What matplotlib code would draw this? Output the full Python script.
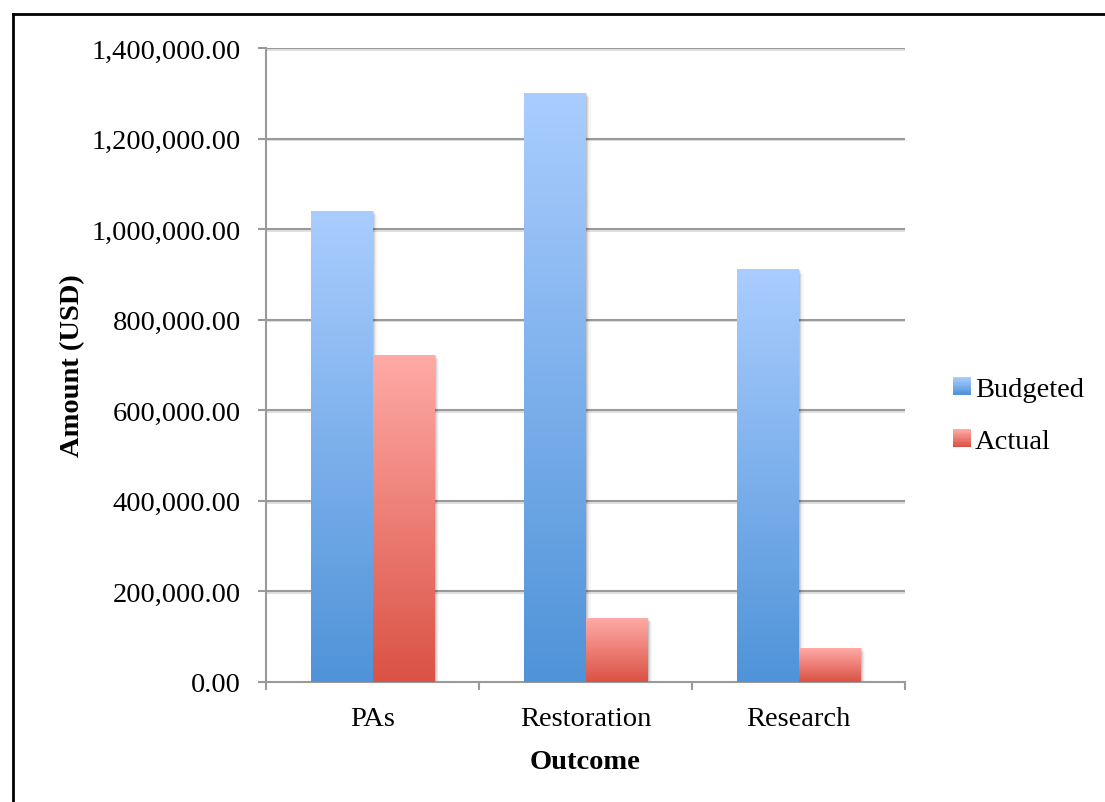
import numpy as np
import matplotlib
matplotlib.use("Agg")
import matplotlib.pyplot as plt
from matplotlib.colors import LinearSegmentedColormap, to_rgb
from matplotlib.patches import Rectangle
from matplotlib.lines import Line2D
from matplotlib.legend_handler import HandlerBase
import matplotlib.patheffects as pe

categories = ["PAs", "Restoration", "Research"]
budgeted = [1040000, 1300000, 910000]
actual = [722000, 141000, 75000]
series_names = ["Budgeted", "Actual"]
y_ticks = [0, 200000, 400000, 600000, 800000, 1000000, 1200000, 1400000]

blue_top, blue_bottom = "#aacdff", "#4f93d8"
red_top, red_bottom = "#ffaaa6", "#da5245"

FS = 20.5
plt.rcParams["font.family"] = ["Liberation Serif", "DejaVu Serif"]

fig = plt.figure(figsize=(11.05, 8.03), dpi=100)
ax = fig.add_axes([266 / 1105, 1 - 683 / 803, (905 - 266) / 1105, (683 - 49) / 803])

x = np.arange(len(categories))
width = 0.29

b1 = ax.bar(x - width / 2, budgeted, width, color="none", edgecolor="none", zorder=3)
b2 = ax.bar(x + width / 2, actual, width, color="none", edgecolor="none", zorder=3)


def fill_gradient(rects, top, bottom):
    cmap = LinearSegmentedColormap.from_list("g", [bottom, top])
    grad = np.linspace(0, 1, 256).reshape(-1, 1)
    for r in rects:
        x0, w, h = r.get_x(), r.get_width(), r.get_height()
        # soft drop shadow to the right
        for k, a in enumerate([0.10, 0.07, 0.05, 0.03]):
            dx = 0.006 + 0.006 * k
            ax.add_patch(Rectangle((x0 + dx, 0), w, h - 3000 * k, facecolor="black",
                                   alpha=a, edgecolor="none", zorder=2))
        ax.imshow(grad, extent=(x0, x0 + w, 0, h), origin="lower", cmap=cmap,
                  aspect="auto", zorder=3, interpolation="bilinear")


fill_gradient(b1, blue_top, blue_bottom)
fill_gradient(b2, red_top, red_bottom)

ax.set_xlim(-0.5, 2.5)
ax.set_ylim(0, 1400000)

ax.set_yticks(y_ticks)
ax.set_yticklabels([f"{v:,.2f}" for v in y_ticks])
ax.set_xticks(x)
ax.set_xticklabels(categories)
ax.set_xticks([-0.5, 0.5, 1.5, 2.5], minor=True)

grid_color = "#9a9a9a"
for v in y_ticks[1:]:
    ax.axhline(v, color=grid_color, lw=1.5, zorder=1,
               path_effects=[pe.SimpleLineShadow(offset=(0, -1.2), shadow_color="#000000", alpha=0.12),
                             pe.Normal()])

for s in ["top", "right"]:
    ax.spines[s].set_visible(False)
for s in ["left", "bottom"]:
    ax.spines[s].set_color(grid_color)
    ax.spines[s].set_linewidth(1.5)

ax.tick_params(axis="y", which="major", length=6, width=1.5, color=grid_color,
               labelsize=FS, pad=12)
ax.tick_params(axis="x", which="major", length=0, labelsize=FS, pad=17.5)
ax.tick_params(axis="x", which="minor", length=6, width=1.5, color=grid_color)

ax.set_ylabel("Amount (USD)", fontsize=FS, fontweight="bold")
ax.yaxis.set_label_coords(-(266 - 85) / 639, 0.5)
ax.set_xlabel("Outcome", fontsize=FS, fontweight="bold")
ax.xaxis.set_label_coords(0.5, -(750 - 683) / 634)


class GradientHandler(HandlerBase):
    def __init__(self, top, bottom):
        super().__init__()
        self.top, self.bottom = np.array(to_rgb(top)), np.array(to_rgb(bottom))

    def create_artists(self, legend, orig_handle, xdescent, ydescent, width, height, fontsize, trans):
        size = 13
        y0 = -ydescent + (height - size) / 2
        x0 = -xdescent + width - size
        n = 14
        arts = []
        for i in range(n):
            t = i / (n - 1)
            c = self.bottom * (1 - t) + self.top * t
            arts.append(Rectangle((x0, y0 + size * i / n), size, size / n + 0.2,
                                  facecolor=c, edgecolor="none", transform=trans))
        return arts


h1 = Rectangle((0, 0), 1, 1)
h2 = Rectangle((0, 0), 1, 1)
ax.legend([h1, h2], series_names, loc="center left", bbox_to_anchor=(935 / 1105, (803 - 416) / 803),
          bbox_transform=fig.transFigure, frameon=False, fontsize=FS,
          handler_map={h1: GradientHandler(blue_top, blue_bottom), h2: GradientHandler(red_top, red_bottom)},
          handlelength=0.75, handletextpad=0.15, labelspacing=0.92, borderpad=0)

# outer frame (left and top edges)
fig.add_artist(Line2D([12.5 / 1105, 12.5 / 1105], [0, 1 - 14.5 / 803], color="black", lw=2,
                      transform=fig.transFigure))
fig.add_artist(Line2D([12.5 / 1105, 1], [1 - 14.5 / 803, 1 - 14.5 / 803], color="black", lw=2,
                      transform=fig.transFigure))

fig.savefig("out.png", dpi=100, facecolor="white")
